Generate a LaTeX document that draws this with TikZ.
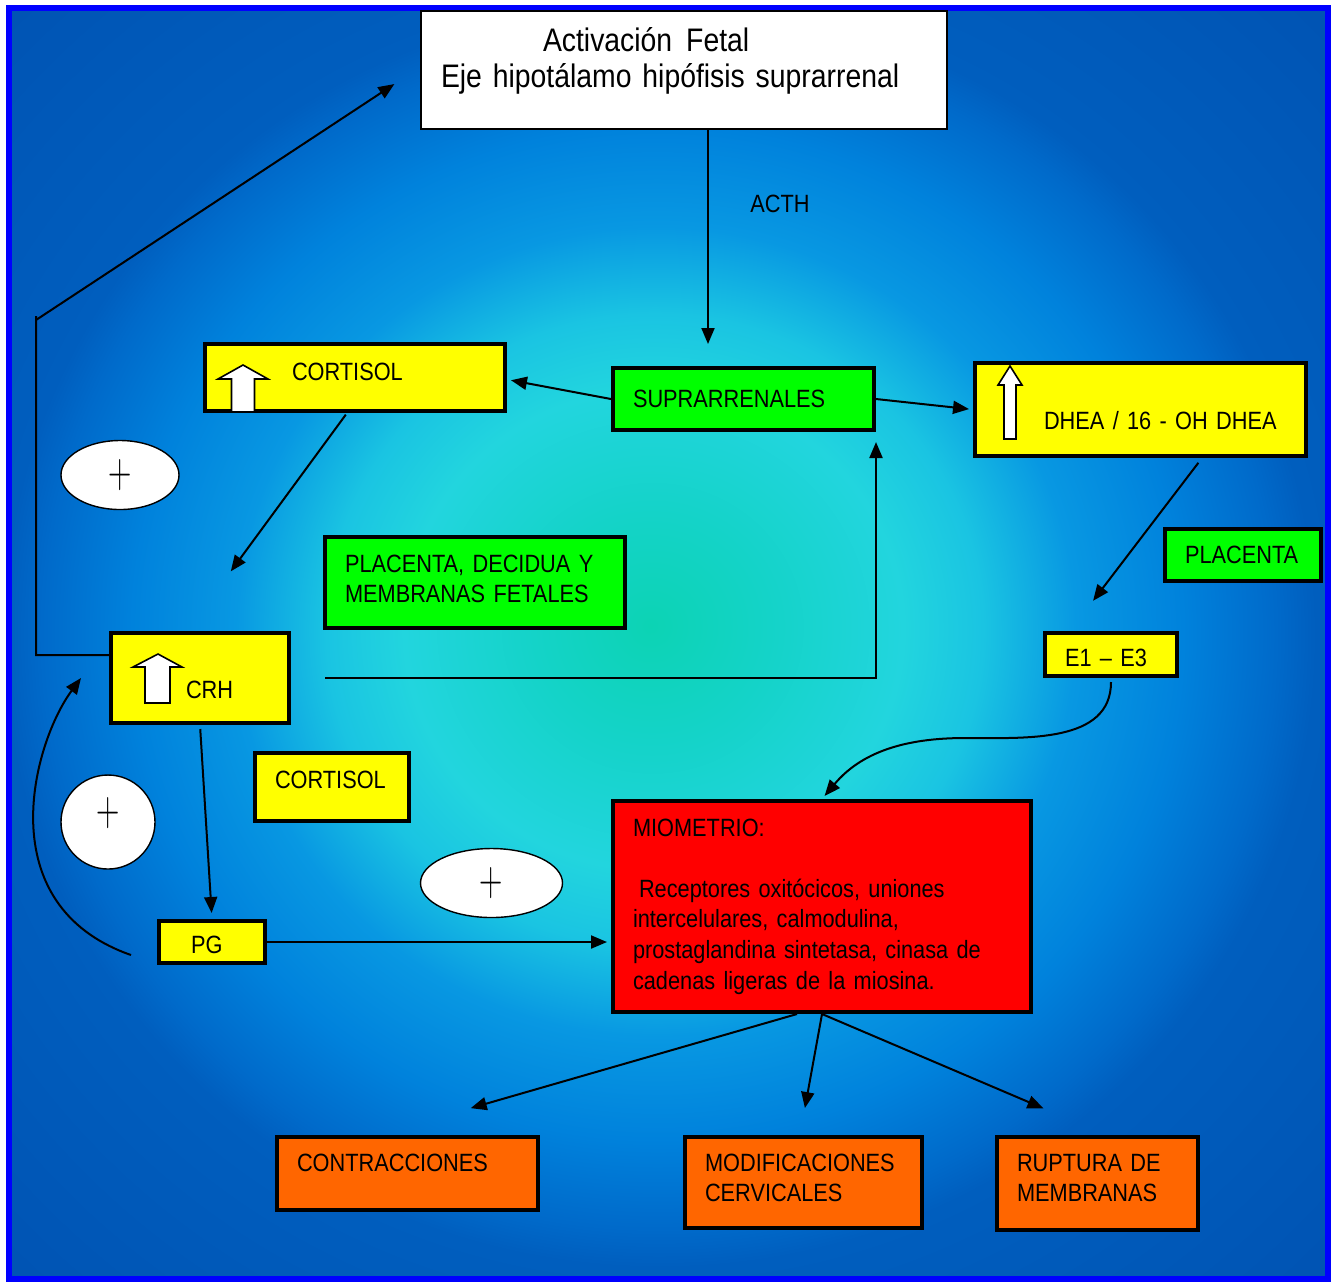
\documentclass[tikz,border=0pt]{standalone}
\usepackage{fontspec}
\setmainfont{Liberation Sans}[FakeStretch=0.87]
\usepackage{graphicx}
\usetikzlibrary{arrows.meta,shapes.geometric}

\definecolor{azulmarco}{RGB}{0,0,255}
\definecolor{verdecaja}{RGB}{0,255,0}
\definecolor{amarillocaja}{RGB}{255,255,0}
\definecolor{rojocaja}{RGB}{255,0,0}
\definecolor{naranjacaja}{RGB}{255,102,0}
\definecolor{fondoa}{HTML}{0CD3B4}
\definecolor{fondob}{HTML}{14D3C8}
\definecolor{fondoc}{HTML}{22D5DE}
\definecolor{fondod}{HTML}{1AC4E2}
\definecolor{fondoe}{HTML}{0898E2}
\definecolor{fondof}{HTML}{0082DC}
\definecolor{fondog}{HTML}{006ACA}
\definecolor{fondoh}{HTML}{005EBE}
\definecolor{fondoi}{HTML}{0054B4}

\pgfdeclareradialshading{fondo}{\pgfpoint{-0.7bp}{0.7bp}}{%
  color(0bp)=(fondoa); color(4.5bp)=(fondob); color(9.5bp)=(fondoc);
  color(12.5bp)=(fondod); color(16bp)=(fondoe); color(20bp)=(fondof);
  color(23.5bp)=(fondog); color(25bp)=(fondoh); color(35bp)=(fondoi);
  color(50bp)=(fondoi)}

\newcommand{\letra}{\fontsize{12.5}{15}\selectfont\spaceskip=2.5pt plus 1pt minus 0.5pt\relax}
\newcommand{\letramio}{\fontsize{12.5}{15.3}\selectfont\spaceskip=2.6pt plus 1pt minus 0.5pt\relax}
\newcommand{\grande}{\fontsize{16.3}{18}\selectfont\spaceskip=3.6pt plus 1pt minus 0.5pt\relax}
\newcommand{\signomas}{\scalebox{0.65}[1]{\fontsize{24}{24}\selectfont$+$}}

\tikzset{
  caja/.style={draw, line width=2pt, inner xsep=10pt, align=left, font=\letra},
  flecha/.style={-{Triangle[length=8pt,width=6.5pt]}, line width=1pt},
  bloque/.style={draw, fill=white, line width=0.8pt, line join=miter},
  mas/.style={draw, fill=white, line width=0.7pt, inner sep=0pt}
}

\begin{document}
\begin{tikzpicture}[x=0.5pt,y=-0.5pt]
	\useasboundingbox (0,0) rectangle (1336,1282);
	% fondo
	\shade[shading=fondo] (12,11) rectangle (1325,1276);
	\draw[azulmarco, line width=3pt] (9,7.5) rectangle (1328,1279);

	% cajas
	\node[draw, fill=white, line width=0.75pt, inner xsep=10pt, align=left, font=\grande,
		text width=243pt, minimum height=59pt, text height=0pt, text depth=18.4pt] (eje) at (684,70)
		{\hspace*{51pt}Activación\hspace{7pt}Fetal\\Eje hipotálamo hipófisis suprarrenal};
	\node[font=\letra] (acth) at (780,204) {ACTH};
	\node[caja, fill=verdecaja, text width=110.5pt, minimum height=31pt] (supra) at (743.5,399) {SUPRARRENALES};
	\node[caja, fill=amarillocaja, text width=130pt, minimum height=33.5pt, text height=2.5pt, text depth=0pt] (cort1) at (355,377.5)
		{\hspace*{33.5pt}CORTISOL};
	\node[caja, fill=amarillocaja, text width=145.5pt, minimum height=46.5pt, text height=19.5pt, text depth=0pt] (dhea) at (1140.5,409.5)
		{\hspace*{24.5pt}DHEA / 16 - OH DHEA};
	\node[caja, fill=verdecaja, text width=58pt, minimum height=26pt] (plac) at (1243,555) {PLACENTA};
	\node[caja, fill=verdecaja, text width=130pt, minimum height=45.5pt, text height=0pt, text depth=10.5pt] (pdm) at (475,582.5)
		{PLACENTA, DECIDUA Y\\MEMBRANAS FETALES};
	\node[caja, fill=amarillocaja, text width=46pt, minimum height=21.5pt, text height=12pt, text depth=0pt] (e13) at (1111,654.5) {E1 -- E3};
	\node[caja, fill=amarillocaja, text width=69pt, minimum height=45pt, text height=20pt, text depth=0pt] (crh) at (200,678)
		{\hspace*{27.5pt}CRH};
	\node[caja, fill=amarillocaja, text width=57pt, minimum height=34pt, text height=1pt, text depth=0pt] (cort2) at (332,787) {CORTISOL};
	\node[caja, fill=amarillocaja, text width=33pt, minimum height=21pt, text height=11pt, text depth=0pt] (pg) at (212,942) {\hspace*{6pt}PG};
	\node[caja, fill=rojocaja, font=\letramio, text width=189pt, minimum height=105.5pt] (mio) at (822,906.5)
		{MIOMETRIO:\\\mbox{}\\\hspace*{3pt}Receptores oxitócicos, uniones\\intercelulares, calmodulina,\\
		prostaglandina sintetasa, cinasa de\\cadenas ligeras de la miosina.};
	\node[caja, fill=naranjacaja, text width=110.5pt, minimum height=36.5pt, text height=0pt, text depth=2.5pt] (contr) at (407.5,1173.5)
		{CONTRACCIONES};
	\node[caja, fill=naranjacaja, text width=98.5pt, minimum height=45.5pt, text height=0pt, text depth=11.5pt] (modif) at (803.5,1182.5)
		{MODIFICACIONES\\CERVICALES};
	\node[caja, fill=naranjacaja, text width=80.5pt, minimum height=46.5pt, text height=0pt, text depth=12.5pt] (rupt) at (1097.5,1183.5)
		{RUPTURA DE\\MEMBRANAS};

	% flechas gruesas
	\draw[bloque] (243,365) -- (268,379) -- (254.5,379) -- (254.5,412) -- (231.5,412) -- (231.5,379) -- (218,379) -- cycle;
	\draw[bloque] (1010,366) -- (1022,385) -- (1016,385) -- (1016,439) -- (1004,439) -- (1004,385) -- (998,385) -- cycle;
	\draw[bloque] (158,654) -- (182,667) -- (170,667) -- (170,703) -- (145,703) -- (145,667) -- (133,667) -- cycle;

	% signos
	\node[mas, ellipse, minimum width=59pt, minimum height=34.5pt] (mas1) at (120,475) {\signomas};
	\node[mas, circle, minimum size=47pt, text height=14pt, text depth=11pt] (mas2) at (108,822) {\signomas};
	\node[mas, ellipse, minimum width=71pt, minimum height=34.5pt] (mas3) at (491.5,883) {\signomas};

	% conexiones
	\coordinate (codo) at (36,320);
	\draw[flecha, shorten >=11pt] ([xshift=12pt]eje.south) -- ([xshift=12pt]eje.south |- supra.north);
	\draw[flecha, shorten >=2pt] (supra.west) -- ([yshift=-1pt]cort1.east);
	\draw[flecha, shorten >=2pt] (supra.east) -- (dhea.west);
	\draw[flecha, shorten <=1pt, shorten >=37pt] ([xshift=-4pt]cort1.south) -- ([xshift=-6.5pt]crh.north);
	\draw[flecha, shorten <=3pt, shorten >=19pt] ([xshift=30.75pt]dhea.south) -- ([xshift=-20.5pt]e13.north);
	\draw[flecha, shorten <=17pt, shorten >=5pt] (crh.east) -| (supra.south east);
	\draw[flecha, shorten >=15.5pt] ([yshift=11.5pt]crh.west) -| ([yshift=2pt]codo) (codo) -- ([yshift=1.5pt]eje.west);
	\draw[flecha, shorten <=2pt, shorten >=3pt] (crh.south) -- (pg.north);
	\draw[flecha, shorten >=2pt] (pg.east) -- (pg.east -| mio.west);
	\draw[flecha] ([xshift=-13pt,yshift=-6.5pt]pg.west) .. controls +(-143,-50) and +(-48,65) .. ([xshift=-14pt]crh.west);
	\draw[flecha, shorten >=2pt] ([yshift=-2pt]e13.south) to[out=-90,in=0] (965,738) to[out=180,in=50] (mio.north);
	\draw[flecha, shorten >=48.5pt] ([xshift=-12.5pt]mio.south) -- ([xshift=-15pt]contr.north);
	\draw[flecha, shorten >=13.7pt] (mio.south) -- ([xshift=-1.75pt]modif.north);
	\draw[flecha, shorten >=34pt] (mio.south) -- ([xshift=4.25pt]rupt.north);
\end{tikzpicture}
\end{document}
